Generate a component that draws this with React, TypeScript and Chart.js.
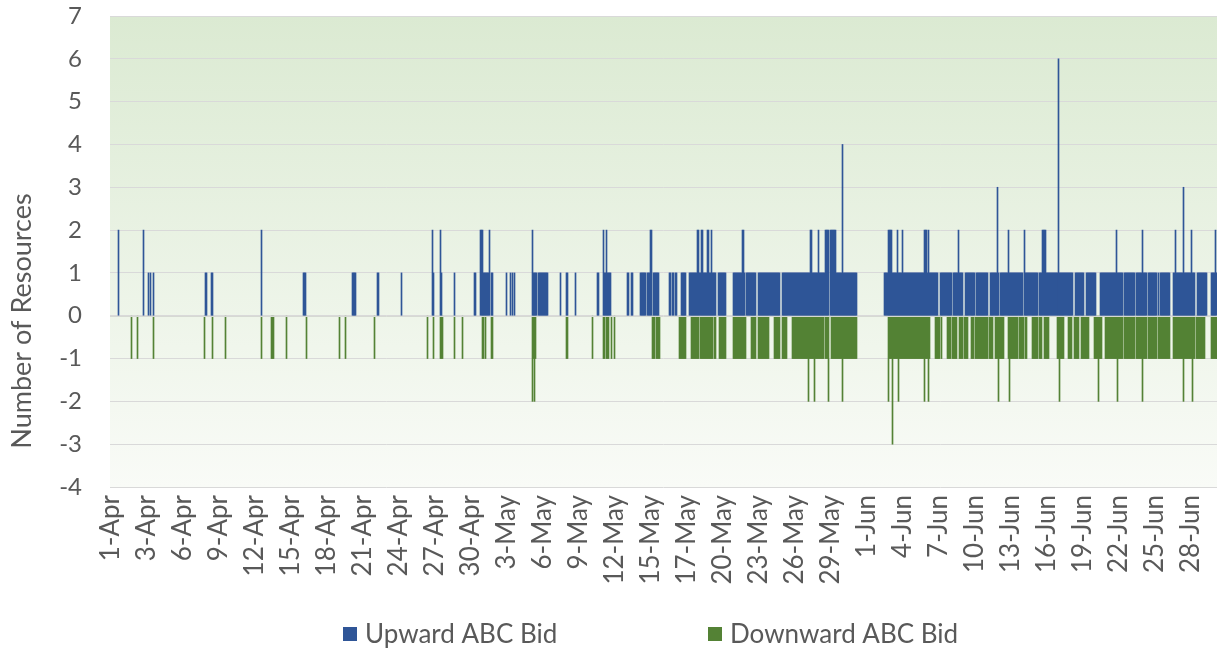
import React, { useEffect, useRef } from "react";
import { Chart, registerables } from "chart.js";

Chart.register(...registerables);

// Tick labels of the category axis: one per 3-day period (36 two-hour slots each)
const periodLabels = [
  "1-Apr", "3-Apr", "6-Apr", "9-Apr", "12-Apr", "15-Apr", "18-Apr", "21-Apr", "24-Apr", "27-Apr", "30-Apr",
  "3-May", "6-May", "9-May", "12-May", "15-May", "17-May", "20-May", "23-May", "26-May", "29-May",
  "1-Jun", "4-Jun", "7-Jun", "10-Jun", "13-Jun", "16-Jun", "19-Jun", "22-Jun", "25-Jun", "28-Jun",
];

// Number of upward resources per 2-hour slot, one string per period (digit = value)
const upwardBids = [
  "000000 002000 000000 000000 000000 000200",
  "001010 010000 000000 000000 000000 000000",
  "000000 000000 000000 000001 100001 100000",
  "000000 000000 000000 000000 000000 000000",
  "000000 020000 000000 000000 000000 000000",
  "000000 000000 011100 000000 000000 000000",
  "000000 000000 000000 000000 001111 000000",
  "000000 000000 000110 000000 000000 000000",
  "000100 000000 000000 000000 000000 000021",
  "000000 210000 000000 001000 000000 000000",
  "000011 000022 211111 120110 000000 000000",
  "100010 101000 000000 000000 002111 101111",
  "111111 000000 000000 100000 110000 000100",
  "000000 000000 000000 011000 021121 111000",
  "000000 000000 011001 100000 001111 110111",
  "220111 111000 000000 011011 011000 011111",
  "000111 111112 211221 111221 121111 001111",
  "111100 000001 111111 112210 111111 111100",
  "111111 111111 111111 111100 111111 111111",
  "111111 111111 111122 111111 211111 122220",
  "222222 111111 411111 111111 111000 000000",
  "000000 000000 000000 111122 221111 121111",
  "211111 111111 111111 111122 212111 111111",
  "001111 111111 110111 112111 100111 111111",
  "101111 111111 110011 111113 101111 111121",
  "111111 111111 102111 111111 111101 112222",
  "111111 111111 611111 111111 111001 111111",
  "110011 111111 110000 111111 111111 111121",
  "111110 111111 111110 111111 211110 111111",
  "111010 111111 111100 011211 111113 111111",
  "121110 011111 111110 000111 121",
];

// Number of downward resources per 2-hour slot (shown below zero)
const downwardBids = [
  "000000 000000 000000 000100 000100 000000",
  "000000 010000 000000 000000 000000 000000",
  "000000 000000 000000 000010 000000 100000",
  "000000 010000 000000 000000 000000 000000",
  "000000 010000 000001 110000 000000 001000",
  "000000 000000 000010 000000 000000 000000",
  "000000 000000 010000 010000 000000 000000",
  "000000 000000 100000 000000 000000 000000",
  "000000 000000 000000 000000 000001 000001",
  "000000 111000 000000 001000 000010 000000",
  "000000 000000 110100 000110 000000 000000",
  "000000 000000 000000 000000 002121 000000",
  "000000 000000 000000 000000 110000 000000",
  "000000 000000 001000 000000 011011 100100",
  "100000 000000 000000 000000 000000 000000",
  "001110 111100 000000 000000 000001 111111",
  "000001 111111 101111 111111 111011 000111",
  "111100 000001 111111 111111 000001 111100",
  "111111 111110 000011 111100 111110 000011",
  "111111 111111 112111 112111 111111 011120",
  "011111 111111 211111 111111 111000 000000",
  "000000 000000 000000 000021 113111 112111",
  "111111 111111 111111 111121 112100 000111",
  "110100 000111 101111 100111 101111 000111",
  "011111 111111 110111 100111 211111 000012",
  "111111 110111 110110 000011 111101 110011",
  "111000 000001 121111 000011 110011 111001",
  "111111 100000 111121 110001 111111 111112",
  "111110 111111 111110 111111 211110 111111",
  "111011 111111 111100 011111 111112 111111",
  "112110 111111 111000 000111 111",
];

const seriesNames = ["Upward ABC Bid", "Downward ABC Bid"];
const seriesColors = ["#2F5597", "#548235"];
const yAxisTitle = "Number of Resources";
const yMin = -4;
const yMax = 7;

const TEXT = "#595959";
const FONT = "Lato, 'Open Sans', sans-serif";

// Expand the period strings into one value per slot; empty slots (0) carry no bar
const slotLabels: string[] = [];
const upValues: (number | null)[] = [];
const downValues: (number | null)[] = [];
periodLabels.forEach((lab, k) => {
  const u = upwardBids[k].replace(/\s/g, "");
  const d = downwardBids[k].replace(/\s/g, "");
  for (let i = 0; i < u.length; i++) {
    slotLabels.push(i === 0 ? lab : "");
    const uv = Number(u[i]);
    const dv = Number(d[i] || "0");
    upValues.push(uv === 0 ? null : uv);
    downValues.push(dv === 0 ? null : -dv);
  }
});

const decorPlugin = {
  id: "decor",
  beforeDraw(chart: any) {
    const { ctx, chartArea: a } = chart;
    const g = ctx.createLinearGradient(0, a.top, 0, a.bottom);
    g.addColorStop(0, "#dbead2");
    g.addColorStop(1, "#f9fbf7");
    ctx.save();
    ctx.fillStyle = g;
    ctx.fillRect(a.left, a.top, a.right - a.left, a.bottom - a.top);
    ctx.restore();
  },
  afterDatasetsDraw(chart: any) {
    const { ctx, chartArea: a, scales } = chart;
    const y0 = Math.round(scales.y.getPixelForValue(0)) + 0.5;
    ctx.save();
    ctx.strokeStyle = "#d6d9d3";
    ctx.lineWidth = 1;
    ctx.beginPath();
    ctx.moveTo(a.left, y0);
    ctx.lineTo(a.right, y0);
    ctx.stroke();
    ctx.restore();
  },
  afterDraw(chart: any) {
    const { ctx } = chart;
    ctx.save();
    ctx.fillStyle = TEXT;
    ctx.font = `27px ${FONT}`;
    ctx.textAlign = "center";
    ctx.textBaseline = "middle";
    ctx.translate(22, 321);
    ctx.rotate(-Math.PI / 2);
    ctx.fillText(yAxisTitle, 0, 0);
    ctx.restore();

    const legendX = [343, 708];
    ctx.save();
    ctx.font = `26px ${FONT}`;
    ctx.textAlign = "left";
    ctx.textBaseline = "middle";
    chart.data.datasets.forEach((ds: any, i: number) => {
      ctx.fillStyle = ds.backgroundColor;
      ctx.fillRect(legendX[i], 627, 14, 14);
      ctx.fillStyle = TEXT;
      ctx.fillText(ds.label, legendX[i] + 22, 635);
    });
    ctx.restore();
  },
};

export default function App() {
  const ref = useRef<HTMLCanvasElement | null>(null);
  useEffect(() => {
    if (!ref.current) return;
    const chart = new Chart(ref.current, {
      type: "bar",
      data: {
        labels: slotLabels,
        datasets: [
          {
            label: seriesNames[0],
            data: upValues,
            backgroundColor: seriesColors[0],
            borderWidth: 0,
            barPercentage: 1,
            categoryPercentage: 1,
          },
          {
            label: seriesNames[1],
            data: downValues,
            backgroundColor: seriesColors[1],
            borderWidth: 0,
            barPercentage: 1,
            categoryPercentage: 1,
          },
        ],
      },
      options: {
        responsive: false,
        animation: false,
        events: [],
        devicePixelRatio: 1,
        layout: { padding: { top: 16, left: 0, right: 0, bottom: 0 } },
        plugins: { legend: { display: false }, tooltip: { enabled: false } },
        scales: {
          x: {
            stacked: true,
            grid: { display: false, drawTicks: false },
            border: { display: false },
            ticks: {
              autoSkip: false,
              minRotation: 90,
              maxRotation: 90,
              padding: 8,
              color: TEXT,
              font: { family: FONT, size: 26 },
            },
            afterFit(s: any) {
              s.height = 165;
              s.paddingLeft = 0;
              s.paddingRight = 0;
            },
          },
          y: {
            stacked: true,
            min: yMin,
            max: yMax,
            grid: { color: "#d9d9d9", lineWidth: 1, drawTicks: false },
            border: { display: false },
            ticks: {
              stepSize: 1,
              padding: 28,
              color: TEXT,
              font: { family: FONT, size: 24 },
            },
            afterFit(s: any) {
              s.width = 110;
              s.paddingTop = 0;
              s.paddingBottom = 0;
            },
          },
        },
      },
      plugins: [decorPlugin],
    } as any);
    return () => chart.destroy();
  }, []);
  return (
    <div style={{ position: "fixed", left: 0, top: 0, width: 1217, height: 652, background: "#fff" }}>
      <canvas ref={ref} width={1217} height={652} style={{ display: "block" }} />
    </div>
  );
}
